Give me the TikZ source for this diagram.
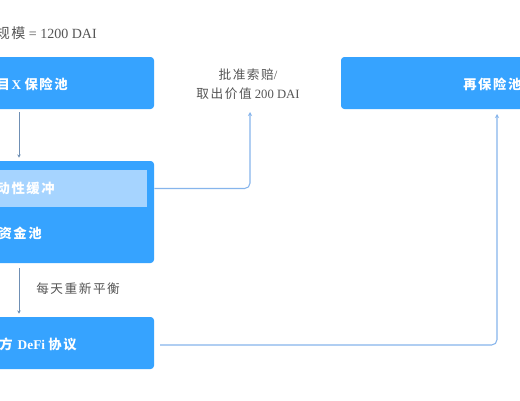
\documentclass[tikz,border=0pt]{standalone}
\usepackage{fontspec}
\setmainfont{Liberation Serif}
\newfontfamily\cjk[LetterSpace=12]{Noto Sans CJK SC}
\newfontfamily\cjkbox[LetterSpace=12]{Noto Sans CJK SC}
\usetikzlibrary{arrows.meta}
\definecolor{boxblue}{HTML}{36A3FF}
\definecolor{bandblue}{HTML}{A6D4FF}
\definecolor{linkblue}{HTML}{86B5EC}
\definecolor{arrdark}{HTML}{6F8FB4}
\definecolor{txtgrey}{HTML}{555555}
\begin{document}
\begin{tikzpicture}[x=0.75pt,y=-0.75pt,
  box/.style={fill=boxblue, rounded corners=2.5pt, draw=none, inner sep=0pt},
  band/.style={fill=bandblue, draw=none, inner sep=0pt},
  boxtext/.style={text=white, inner sep=0pt, font=\fontsize{10}{12}\selectfont},
  lbl/.style={text=txtgrey, inner sep=0pt, font=\fontsize{9.5}{14.25}\selectfont, align=center},
  link/.style={draw=linkblue, line width=0.8pt, rounded corners=4pt, -{Stealth[length=3pt,width=3pt]}},
  darr/.style={draw=arrdark, line width=0.5pt, -{Stealth[length=2.5pt,width=2.5pt]}}]
\useasboundingbox (0,0) rectangle (520,400);
\clip (0,0) rectangle (520,400);
\fill[white] (0,0) rectangle (520,400);

% boxes
\node[box, minimum width=130.5pt, minimum height=39pt] (box1) at (67,83) {};
\node[box, minimum width=130.5pt, minimum height=76.5pt] (box2) at (67,212) {};
\node[band, minimum width=125.25pt, minimum height=27.75pt] (band) at (63.5,188.5) {};
\node[box, minimum width=130.5pt, minimum height=39pt] (box3) at (67,343) {};
\node[box, minimum width=149.25pt, minimum height=39pt] (box4) at (440.5,83) {};

% texts
\node[lbl, anchor=east, font=\fontsize{10.5}{12}\selectfont] (scale) at (97,33) {{\cjk 规模} = 1200 DAI};
\node[boxtext, anchor=east] (t1) at (68,84) {{\cjkbox\bfseries 目}\textbf{X} {\cjkbox\bfseries 保险池}};
\node[boxtext, anchor=east] (t2) at (55,188) {\cjkbox\bfseries 动性缓冲};
\node[boxtext, anchor=east] (t3) at (42,233) {\cjkbox\bfseries 资金池};
\node[boxtext, anchor=east] (t4) at (77,344) {{\cjkbox\bfseries 方} \textbf{DeFi} {\cjkbox\bfseries 协议}};
\node[boxtext, anchor=west] (t5) at (463,84) {\cjkbox\bfseries 再保险池};
\node[lbl] (claim) at (248,84.5) {{\cjk 批准索赔}/\\{\cjk 取出价值} 200 DAI};
\node[lbl, anchor=west] (rebal) at (36,289) {\cjk 每天重新平衡};

% connectors
\coordinate (ax) at (19,0);
\coordinate (c1) at (250,112);
\coordinate (c2) at (497,114);
\coordinate (s2) at (160,345);
\draw[darr, shorten <=2.25pt, shorten >=2.25pt] (box1.south -| ax) -- (box2.north -| ax);
\draw[darr, shorten <=3.75pt, shorten >=2.25pt] (box2.south -| ax) -- (box3.north -| ax);
\draw[link] (box2.east |- band.center) -| (c1);
\draw[link] (s2) -| (c2);
\end{tikzpicture}
\end{document}
